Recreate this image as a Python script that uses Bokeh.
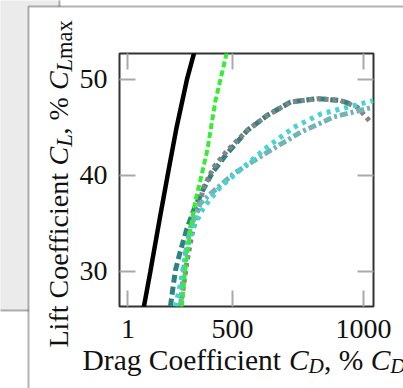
import math
from bokeh.plotting import figure
from bokeh.models import Label, BoxAnnotation, LinearAxis, FixedTicker
from bokeh.embed import file_html
from bokeh.resources import INLINE

# ---- data ----
x_ticks = [1, 444, 1000]
x_tick_labels = ["1", "500", "1000"]
y_ticks = [30, 40, 50]

cl_black = [26, 30, 35, 40, 45, 50, 53]
cd_black = [66, 96, 132, 169, 207, 251, 284]

cl_green = [26.35, 27.0, 30.45, 34.0, 37.4, 39.5, 42.6, 47.8, 52.7, 53.2]
cd_green = [228, 231, 245, 263, 287, 308, 337, 372, 419, 422]

cl_gray = [26.35, 31.15, 33.96, 36.04, 38.78, 40.86, 42.6, 44.69, 46.25, 47.64, 47.99, 47.81, 47.11, 45.55]
cd_gray = [224, 252, 273, 294, 322, 365, 422, 507, 591, 690, 804, 902, 973, 1030]

cl_teal = [26.35, 28.0, 30.1, 32.2, 34.3, 36.35, 38.4, 40.3, 42.1, 44.7, 46.25, 47.64, 48.0, 47.8, 47.4]
cd_teal = [181, 190, 202, 224, 249, 279, 317, 359, 415, 507, 591, 690, 804, 902, 953]

cl_cyan = [26.35, 28.75, 31.9, 34.3, 36.7, 38.8, 40.9, 42.95, 45.0, 46.4, 47.1, 47.8]
cd_cyan = [202, 224, 245, 273, 322, 393, 492, 591, 704, 818, 931, 1042]

cl_lteal = [26.35, 28.75, 31.9, 34.6, 37.1, 38.4, 40.2, 42.4, 44.5, 46.1, 47.1]
cd_lteal = [224, 231, 245, 266, 308, 365, 450, 591, 733, 874, 1037]

x_title = [("Drag Coefficient ", False, False), ("C", True, False), ("D", True, True),
           (", % ", False, False), ("C", True, False), ("D", True, True), ("0", False, True)]
y_title = [("Lift Coefficient ", False, False), ("C", True, False), ("L", True, True),
           (", % ", False, False), ("C", True, False), ("L", True, True), ("max", False, True)]

# ---- layout constants (canvas px, origin top-left) ----
W, H = 403, 388
FL, FR, FT, FB = 119, 373, 53, 306
SERIF = "Liberation Serif"

# ---------------- back figure: page panels and axis titles ----------------
bg = figure(width=W, height=H, x_range=(0, 1), y_range=(0, 1),
            x_axis_location=None, y_axis_location=None,
            min_border_left=0, min_border_right=0, min_border_top=0, min_border_bottom=0,
            output_backend="svg", toolbar_location=None)
bg.grid.visible = False
bg.outline_line_color = None
bg.background_fill_color = "white"
bg.border_fill_color = "white"


def bx(cx):
    return cx


def by(cy):
    return H - cy


def panel(l, t, r, b, fill):
    bg.add_layout(BoxAnnotation(left=bx(l), right=bx(r), top=by(t), bottom=by(b),
                                left_units="screen", right_units="screen",
                                top_units="screen", bottom_units="screen",
                                fill_color=fill, fill_alpha=1,
                                line_color="black", line_width=2))


panel(-20, -20, 59, 310, "#ebebeb")
panel(28, 6, 480, 480, "white")

WID = {" ": 250, "%": 833, ",": 250, "0": 500, "D": 722, "r": 333, "a": 444, "g": 500,
       "C": 667, "o": 500, "e": 444, "f": 333, "i": 278, "c": 444, "n": 500, "t": 278,
       "L": 611, "m": 778, "x": 500}
WID_IT = {"C": 667, "D": 722, "L": 556}


def place(pieces, x0, y0, size, vertical, sub_scale=0.72):
    pos = 0.0
    for txt, ital, sub in pieces:
        fs = size * (sub_scale if sub else 1.0)
        off = size * 0.22 if sub else 0.0
        if vertical:
            cx, cy, ang = x0 + off, y0 - pos, math.pi / 2
        else:
            cx, cy, ang = x0 + pos, y0 + off, 0
        bg.add_layout(Label(x=bx(cx), y=by(cy), x_units="screen", y_units="screen",
                            text=txt, angle=ang, text_font=SERIF,
                            text_font_size=f"{fs:.1f}px",
                            text_font_style="italic" if ital else "normal",
                            text_baseline="alphabetic", text_align="left",
                            text_color="#111111"))
        w = sum((WID_IT if ital else WID).get(ch, 500) for ch in txt) / 1000.0
        pos += w * fs


place(x_title, 82, 359, 29.5, False)
place(y_title, 58, 347, 28, True, sub_scale=0.8)

# ---------------- front figure: the chart ----------------
p = figure(width=W, height=H, x_range=(-35, 1042), y_range=(26.35, 52.7),
           output_backend="svg", toolbar_location=None,
           min_border_left=FL, min_border_right=W - FR,
           min_border_top=FT, min_border_bottom=H - FB)
p.margin = (-H, 0, 0, 0)
p.grid.visible = False
p.outline_line_color = "#333333"
p.outline_line_width = 2
p.background_fill_color = "white"
p.border_fill_alpha = 0


def style_axis(ax, show_labels=True):
    ax.axis_line_color = None
    ax.major_tick_in = 16
    ax.major_tick_out = 0
    ax.minor_tick_line_color = None
    ax.major_tick_line_color = "#aaaaaa"
    ax.major_tick_line_width = 2
    ax.major_label_text_font = SERIF
    ax.major_label_text_font_size = "28px"
    ax.major_label_text_color = "#111111"
    if not show_labels:
        ax.major_label_text_alpha = 0
        ax.major_label_text_font_size = "1px"


p.xaxis.ticker = FixedTicker(ticks=x_ticks)
p.xaxis.major_label_overrides = {t: s for t, s in zip(x_ticks, x_tick_labels)}
p.yaxis.ticker = FixedTicker(ticks=y_ticks)
style_axis(p.xaxis[0])
style_axis(p.yaxis[0])
p.xaxis.major_label_standoff = 13
p.yaxis.major_label_standoff = 12

top_ax = LinearAxis(ticker=FixedTicker(ticks=x_ticks))
right_ax = LinearAxis(ticker=FixedTicker(ticks=y_ticks))
style_axis(top_ax, False)
style_axis(right_ax, False)
p.add_layout(top_ax, "above")
p.add_layout(right_ax, "right")

# curves
p.line(cd_teal, cl_teal, line_color="#2e8282", line_width=5, line_dash="8 4")
p.line(cd_gray, cl_gray, line_color="#858585", line_width=5, line_dash="4 4")
p.line(cd_lteal, cl_lteal, line_color="#72b4b4", line_width=5, line_dash="8 3 3 3")
p.line(cd_cyan, cl_cyan, line_color="#44d4d4", line_width=5, line_dash="4 5")
p.line(cd_green, cl_green, line_color="#33ee33", line_width=4, line_dash="6 3")
p.line(cd_black, cl_black, line_color="black", line_width=4.5)

open("out.html", "w").write(file_html([bg, p], INLINE))
